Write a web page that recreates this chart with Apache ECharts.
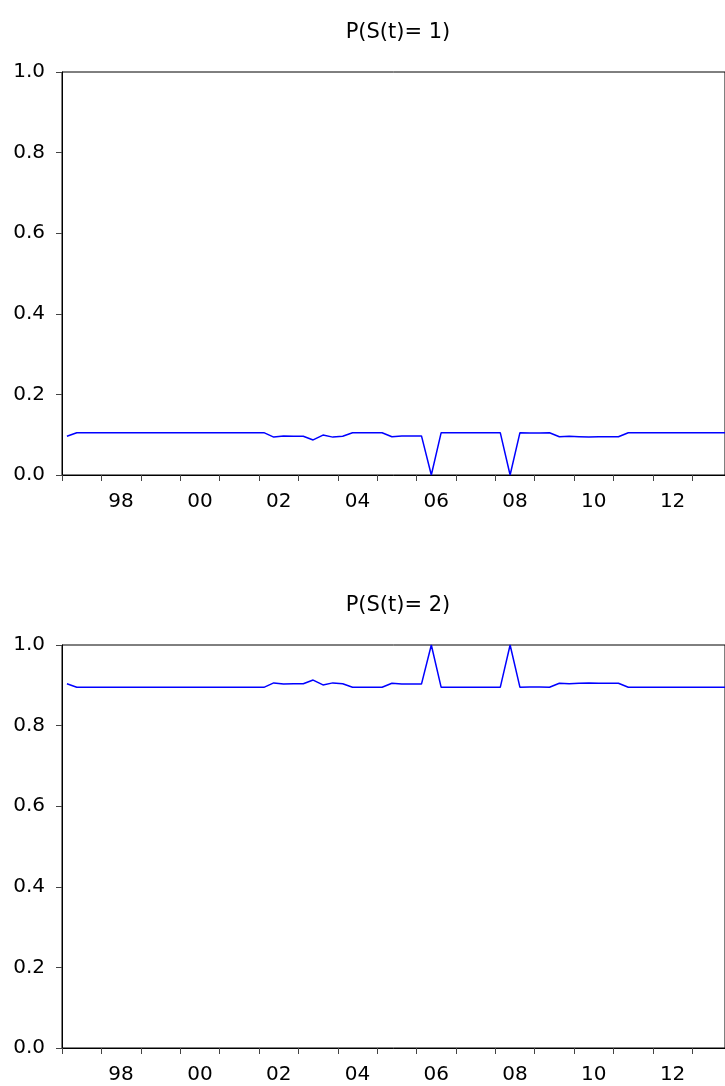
<!DOCTYPE html>
<html>
<head>
<meta charset="utf-8">
<script src="https://cdn.jsdelivr.net/npm/echarts@6/dist/echarts.min.js"></script>
<style>
  html, body { margin: 0; padding: 0; background: #fff; }
  #chart { width: 725px; height: 1086px; }
</style>
</head>
<body>
<div id="chart"></div>
<script>
// quarterly sample 1997Q1 - 2013Q4
var startYear = 1997;
var quarters = [];
for (var y = 1997; y <= 2013; y++) {
  for (var q = 1; q <= 4; q++) quarters.push(y + "Q" + q);
}

// smoothed regime probabilities
var probS1 = [
  0.096, 0.105, 0.105, 0.105, 0.105, 0.105, 0.105, 0.105, 0.105, 0.105,
  0.105, 0.105, 0.105, 0.105, 0.105, 0.105, 0.105, 0.105, 0.105, 0.105,
  0.105, 0.094, 0.097, 0.096, 0.096, 0.087, 0.099, 0.094, 0.096, 0.105,
  0.105, 0.105, 0.105, 0.095, 0.097, 0.097, 0.097, 0.000, 0.105, 0.105,
  0.105, 0.105, 0.105, 0.105, 0.105, 0.000, 0.105, 0.104, 0.104, 0.105,
  0.095, 0.096, 0.095, 0.094, 0.095, 0.095, 0.095, 0.105, 0.105, 0.105,
  0.105, 0.105, 0.105, 0.105, 0.105, 0.105, 0.105, 0.105
];
var probS2 = [
  0.904, 0.895, 0.895, 0.895, 0.895, 0.895, 0.895, 0.895, 0.895, 0.895,
  0.895, 0.895, 0.895, 0.895, 0.895, 0.895, 0.895, 0.895, 0.895, 0.895,
  0.895, 0.906, 0.903, 0.904, 0.904, 0.913, 0.901, 0.906, 0.904, 0.895,
  0.895, 0.895, 0.895, 0.905, 0.903, 0.903, 0.903, 1.000, 0.895, 0.895,
  0.895, 0.895, 0.895, 0.895, 0.895, 1.000, 0.895, 0.896, 0.896, 0.895,
  0.905, 0.904, 0.905, 0.906, 0.905, 0.905, 0.905, 0.895, 0.895, 0.895,
  0.895, 0.895, 0.895, 0.895, 0.895, 0.895, 0.895, 0.895
];

var titles = ["P(S(t)= 1)", "P(S(t)= 2)"];
var yearTicks = [1997, 1998, 1999, 2000, 2001, 2002, 2003, 2004, 2005,
  2006, 2007, 2008, 2009, 2010, 2011, 2012, 2013];
var yearLabels = [1998.5, 2000.5, 2002.5, 2004.5, 2006.5, 2008.5, 2010.5, 2012.5];

// quarter label -> position in years (points sit mid-quarter)
function quarterPos(label) {
  var yr = parseInt(label.slice(0, 4), 10);
  var qq = parseInt(label.slice(5), 10);
  return yr + (qq - 0.5) / 4;
}

function toPairs(values) {
  return values.map(function (v, i) {
    return [quarterPos(quarters[i]), v];
  });
}

var font = "'DejaVu Sans', Arial, sans-serif";
var chart = echarts.init(document.getElementById("chart"));

var grids = [
  { left: 62, right: -2, top: 72, height: 403, show: true, borderColor: "#000", borderWidth: 1 },
  { left: 62, right: -2, top: 645, height: 403, show: true, borderColor: "#000", borderWidth: 1 }
];

function xAxisFor(idx) {
  return {
    type: "value",
    gridIndex: idx,
    min: 1997,
    max: 2013.83,
    axisLine: { show: true, lineStyle: { color: "#000", width: 1 } },
    axisTick: {
      show: true, inside: false, length: 6,
      customValues: yearTicks,
      lineStyle: { color: "#444" }
    },
    axisLabel: {
      show: true,
      customValues: yearLabels,
      margin: 17,
      fontFamily: font,
      fontSize: 20,
      color: "#000",
      formatter: function (v) {
        var yy = Math.floor(v) % 100;
        return (yy < 10 ? "0" : "") + yy;
      }
    },
    splitLine: { show: false }
  };
}

function yAxisFor(idx) {
  return {
    type: "value",
    gridIndex: idx,
    min: 0,
    max: 1,
    interval: 0.2,
    axisLine: { show: true, lineStyle: { color: "#000", width: 1 } },
    axisTick: { show: true, length: 6, lineStyle: { color: "#444" } },
    axisLabel: {
      margin: 17,
      fontFamily: font,
      fontSize: 20,
      color: "#000",
      formatter: function (v) { return v.toFixed(1); }
    },
    splitLine: { show: false }
  };
}

var option = {
  animation: false,
  backgroundColor: "#fff",
  title: [
    { text: titles[0], left: 393, top: 17, textAlign: "center",
      textStyle: { fontFamily: font, fontSize: 21, fontWeight: "normal", color: "#000" } },
    { text: titles[1], left: 393, top: 590, textAlign: "center",
      textStyle: { fontFamily: font, fontSize: 21, fontWeight: "normal", color: "#000" } }
  ],
  grid: grids,
  xAxis: [xAxisFor(0), xAxisFor(1)],
  yAxis: [yAxisFor(0), yAxisFor(1)],
  series: [
    {
      name: titles[0], type: "line", xAxisIndex: 0, yAxisIndex: 0,
      data: toPairs(probS1), showSymbol: false, clip: true,
      lineStyle: { color: "#0000ff", width: 1.5 }
    },
    {
      name: titles[1], type: "line", xAxisIndex: 1, yAxisIndex: 1,
      data: toPairs(probS2), showSymbol: false, clip: true,
      lineStyle: { color: "#0000ff", width: 1.5 }
    }
  ]
};

option && chart.setOption(option);
</script>
</body>
</html>
